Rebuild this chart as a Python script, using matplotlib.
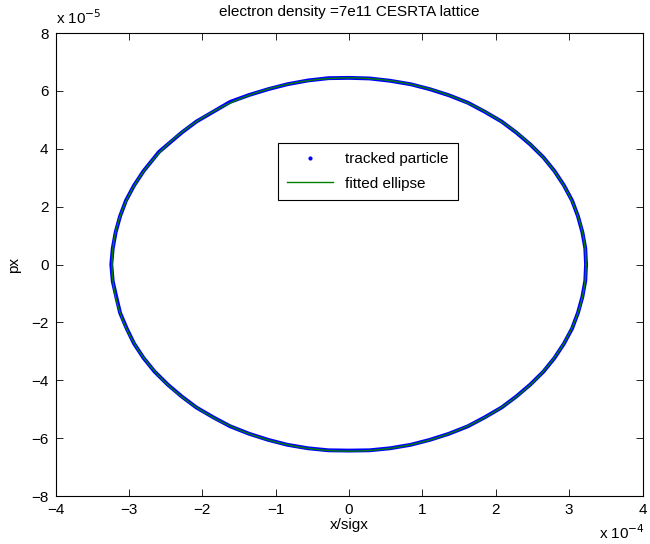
import numpy as np
import matplotlib
matplotlib.use('Agg')
import matplotlib.pyplot as plt
from matplotlib.lines import Line2D

plt.rcParams['font.family'] = ['Liberation Sans', 'DejaVu Sans']
plt.rcParams['font.size'] = 11

# tracked particle positions (x in units of 1e-4, px in units of 1e-5)
track_x = [3.23, 3.22, 3.18, 3.12, 3.04, 2.93, 2.80, 2.65, 2.47, 2.28,
           2.08, 1.85, 1.62, 1.36, 1.10, 0.84, 0.56, 0.28, 0.00,
           -0.28, -0.56, -0.84, -1.10, -1.36, -1.62, -1.85, -2.08, -2.28,
           -2.47, -2.59, -2.80, -2.93, -3.04, -3.12, -3.18, -3.22, -3.24,
           -3.22, -3.17, -3.12, -3.03, -2.93, -2.80, -2.65, -2.47, -2.28,
           -2.08, -1.85, -1.62, -1.36, -1.10, -0.84, -0.56, -0.28, 0.00,
           0.28, 0.56, 0.84, 1.10, 1.36, 1.62, 1.85, 2.08, 2.28, 2.47,
           2.65, 2.80, 2.93, 3.04, 3.12, 3.18, 3.22, 3.23]
track_px = [0.00, 0.56, 1.12, 1.67, 2.21, 2.73, 3.23, 3.70, 4.15, 4.56,
            4.94, 5.28, 5.59, 5.85, 6.06, 6.23, 6.35, 6.43, 6.45,
            6.44, 6.36, 6.23, 6.06, 5.86, 5.62, 5.28, 4.94, 4.56,
            4.15, 3.89, 3.23, 2.73, 2.21, 1.67, 1.12, 0.56, 0.00,
            -0.58, -1.14, -1.67, -2.21, -2.73, -3.23, -3.70, -4.15, -4.56,
            -4.94, -5.28, -5.59, -5.85, -6.06, -6.23, -6.35, -6.42, -6.43,
            -6.42, -6.35, -6.23, -6.06, -5.85, -5.59, -5.28, -4.94, -4.56, -4.15,
            -3.70, -3.23, -2.73, -2.21, -1.67, -1.12, -0.56, 0.00]

# fitted ellipse: semi-axes and centre
ell_a = 3.23e-4
ell_b = 6.45e-5
ell_x0 = 0.0
ell_y0 = 0.0

xticks = [-4, -3, -2, -1, 0, 1, 2, 3, 4]
yticks = [-8, -6, -4, -2, 0, 2, 4, 6, 8]

fig = plt.figure(figsize=(6.5, 5.44), dpi=100)
ax = fig.add_axes([0.0854, 0.0882, 0.9031, 0.8511])

tx = np.array(track_x) * 1e-4
ty = np.array(track_px) * 1e-5
ax.plot(tx, ty, '-', color='#0000ff', lw=2.8, solid_joinstyle='round')

t = np.linspace(0, 2 * np.pi, 400)
ax.plot(ell_x0 + ell_a * np.cos(t), ell_y0 + ell_b * np.sin(t), '-', color='#008000', lw=1)

ax.set_xlim(-4e-4, 4e-4)
ax.set_ylim(-8e-5, 8e-5)
ax.set_xticks([v * 1e-4 for v in xticks])
ax.set_xticklabels(['\u2212%d' % -v if v < 0 else '%d' % v for v in xticks])
ax.set_yticks([v * 1e-5 for v in yticks])
ax.set_yticklabels(['\u2212%d' % -v if v < 0 else '%d' % v for v in yticks])
ax.tick_params(direction='in', length=5, width=0.6, top=True, right=True,
               labelsize=11)
ax.tick_params(axis='x', pad=5)
ax.tick_params(axis='y', pad=5)
for s in ax.spines.values():
    s.set_linewidth(0.8)

ax.text(0.0, 1.012, 'x 10$^{-5}$', transform=ax.transAxes, ha='left', va='bottom', fontsize=11)
ax.text(1.005, -0.058, 'x 10$^{-4}$', transform=ax.transAxes, ha='right', va='top', fontsize=11)

ax.set_title('electron density =7e11 CESRTA lattice', fontsize=11, pad=12)
ax.set_xlabel('x/sigx', fontsize=11, labelpad=1)
ax.set_ylabel('px', fontsize=11, labelpad=7)

handles = [Line2D([], [], ls='none', marker='.', ms=4, color='#0000ff'),
           Line2D([], [], ls='-', lw=1, color='#008000')]
leg = ax.legend(handles, ['tracked particle', 'fitted ellipse'], loc='upper left',
                bbox_to_anchor=(0.379, 0.763), borderaxespad=0, fancybox=False,
                edgecolor='black', framealpha=1, fontsize=11, handlelength=3.0,
                borderpad=0.6, labelspacing=0.7)
leg.get_frame().set_linewidth(0.8)

fig.savefig('out.png', dpi=100)
